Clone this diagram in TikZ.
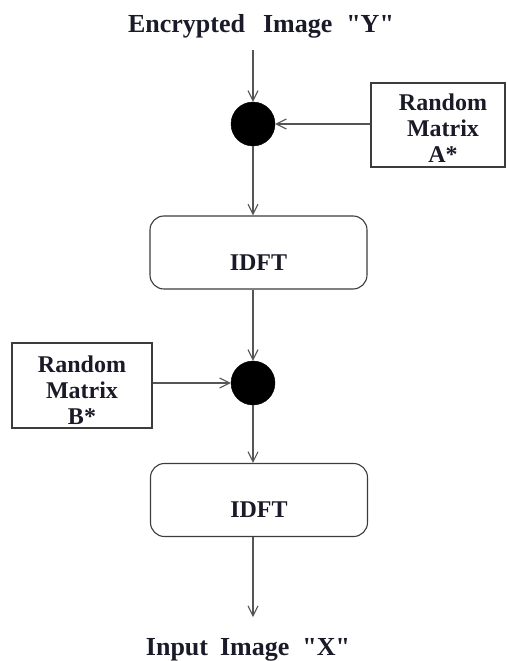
\documentclass[tikz,border=0pt]{standalone}
\usepackage{fontspec}
\setmainfont{Liberation Serif}[Ligatures=TeXOff]
\usetikzlibrary{arrows.meta}
\definecolor{wire}{HTML}{555555}
\definecolor{edge}{HTML}{3C3C3C}
\definecolor{ink}{HTML}{1A1A28}
\tikzset{
  flow/.style={draw=wire, line width=1.4pt, -{Straight Barb[length=10pt,width=10pt,line width=1.1pt]}},
  junction/.style={circle, fill=black, draw=black, minimum size=44pt, inner sep=0pt},
  stage/.style={draw=edge, line width=1.1pt, rounded corners=14pt, minimum width=217pt,
    minimum height=73pt, inner sep=0pt, text height=35pt, text depth=0pt,
    font=\bfseries\fontsize{24}{26}\selectfont, text=ink},
  keybox/.style={draw=edge, line width=1.1pt, align=center, inner sep=0pt,
    font=\bfseries\fontsize{24}{26}\selectfont, text=ink},
  caption/.style={font=\bfseries\fontsize{26}{28}\selectfont, text=ink, inner sep=0pt, anchor=base}
}
% three centred lines, lowered by #1 without changing the box size
\newcommand{\keytext}[2]{\smash{\raisebox{-#1}{\parbox{124pt}{\centering #2}}}}
\begin{document}
\begin{tikzpicture}[x=1pt, y=-1pt]
  \useasboundingbox (0,0) rectangle (508,661);

  % input and output captions
  \node[caption] (enc) at (261,33) {Encrypted\hspace{18pt}Image\hspace{14pt}"Y"};
  \node[caption] (inp) at (248,655) {Input\hspace{12pt}Image\hspace{13pt}"X"};

  % first stage
  \coordinate (start) at (253,50);
  \node[junction] (c1) at (253,124) {};
  \node[keybox, minimum width=134pt, minimum height=84pt] (ka) at (438,125)
    {\keytext{9pt}{\hspace*{10pt}Random\\\hspace*{10pt}Matrix\\\hspace*{10pt}A*}};
  \node[stage] (d1) at (258.5,252.5) {IDFT};

  % second stage
  \node[junction] (c2) at (253,383) {};
  \node[keybox, minimum width=140pt, minimum height=85pt] (kb) at (82,385.5)
    {\keytext{11pt}{Random\\Matrix\\B*}};
  \node[stage] (d2) at (259,500) {IDFT};
  \coordinate (finish) at (253,617);

  % connectors
  \draw[flow] (start) -- (c1.north);
  \draw[flow] (ka.west |- c1) -- (c1.east);
  \draw[flow] (c1.south) -- (c1 |- d1.north);
  \draw[flow] (c1 |- d1.south) -- (c2.north);
  \draw[flow] (kb.east |- c2) -- (c2.west);
  \draw[flow] (c2.south) -- (c2 |- d2.north);
  \draw[flow] (c2 |- d2.south) -- (finish);
\end{tikzpicture}
\end{document}
